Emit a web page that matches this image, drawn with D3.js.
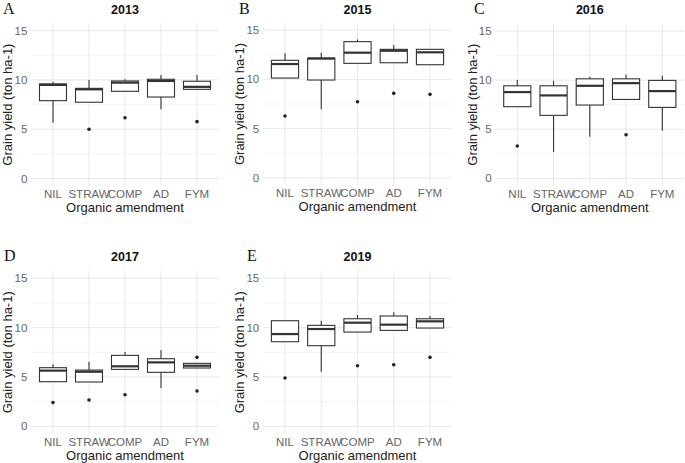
<!DOCTYPE html>
<html>
<head>
<meta charset="utf-8">
<script src="https://cdn.jsdelivr.net/npm/d3@7"></script>
<style>
  html, body { margin: 0; padding: 0; background: #fff; }
  svg { display: block; }
</style>
</head>
<body>
<svg id="chart" width="685" height="463"></svg>
<script>
// ---------- DATA ----------
const categories = ["NIL", "STRAW", "COMP", "AD", "FYM"];
const years = ["2013", "2015", "2016", "2017", "2019"];
const panelLetters = ["A", "B", "C", "D", "E"];
const yTicks = [0, 5, 10, 15];
const yMinorTicks = [2.5, 7.5, 12.5];
const xAxisTitle = "Organic amendment";
const yAxisTitle = "Grain yield (ton ha-1)";

// box stats per category: [lower whisker, Q1, median, Q3, upper whisker]
const stats2013 = [[5.67, 7.90, 9.50, 9.60, 9.83], [7.74, 7.74, 9.05, 9.15, 10.0], [8.85, 8.85, 9.73, 9.90, 10.07], [7.02, 8.27, 9.90, 10.07, 10.5], [9.05, 9.05, 9.30, 9.87, 10.5]];
const out2013 = [[], [5.0], [6.17], [], [5.77]];
const stats2015 = [[10.13, 10.13, 11.55, 11.93, 12.64], [6.96, 9.93, 12.1, 12.16, 12.7], [11.62, 11.62, 12.7, 13.82, 14.05], [11.68, 11.68, 12.9, 13.04, 13.48], [11.48, 11.48, 12.74, 13.04, 13.04]];
const out2015 = [[6.28], [], [7.73], [8.58], [8.48]];
const stats2016 = [[7.29, 7.29, 8.78, 9.42, 10.0], [2.68, 6.41, 8.44, 9.42, 9.93], [4.24, 7.46, 9.42, 10.13, 10.34], [8.03, 8.03, 9.69, 10.13, 10.54], [4.84, 7.22, 8.88, 9.97, 10.44]];
const out2016 = [[3.29], [], [], [4.44], []];
const stats2017 = [[4.52, 4.52, 5.64, 5.94, 6.28], [4.49, 4.49, 5.53, 5.70, 6.55], [5.77, 5.77, 6.08, 7.19, 7.53], [3.85, 5.47, 6.48, 6.85, 7.73], [5.91, 5.91, 6.14, 6.38, 6.38]];
const out2017 = [[2.4], [2.66], [3.2], [], [6.99, 3.58]];
const stats2019 = [[8.57, 8.57, 9.35, 10.7, 10.77], [5.53, 8.17, 9.86, 10.23, 10.7], [9.55, 9.55, 10.5, 10.9, 11.28], [9.72, 9.72, 10.3, 11.18, 11.55], [9.96, 9.96, 10.64, 10.9, 11.18]];
const out2019 = [[4.89], [], [6.14], [6.24], [6.99]];

const allStats = [stats2013, stats2015, stats2016, stats2017, stats2019];
const allOut = [out2013, out2015, out2016, out2017, out2019];

// ---------- LAYOUT ----------
const layout = [
  { cx0: 53, cx1: 197, y0: 178.5, y15: 30.7, lx: 3, ly: 13.5 },
  { cx0: 285, cx1: 430, y0: 178.0, y15: 30.0, lx: 239, ly: 13.5 },
  { cx0: 517.3, cx1: 662.3, y0: 178.3, y15: 31.0, lx: 474, ly: 13.5 },
  { cx0: 53, cx1: 197, y0: 426.3, y15: 278.3, lx: 4, ly: 261 },
  { cx0: 285, cx1: 430, y0: 426.3, y15: 278.3, lx: 247, ly: 261 }
];

const svg = d3.select("#chart");
const sans = "'Liberation Sans', Arial, sans-serif";

layout.forEach((L, i) => {
  const g = svg.append("g");
  const x = d3.scalePoint().domain(categories).range([L.cx0, L.cx1]);
  const step = x.step();
  const y = d3.scaleLinear().domain([0, 15]).range([L.y0, L.y15]);
  const gx0 = L.cx0 - 0.6 * step, gx1 = L.cx1 + 0.6 * step;
  const yTop = y(15.75), yBot = y(-0.75);

  // minor grid
  g.selectAll(".minor").data(yMinorTicks).join("line")
    .attr("x1", gx0).attr("x2", gx1)
    .attr("y1", d => y(d)).attr("y2", d => y(d))
    .attr("stroke", "#f2f2f2").attr("stroke-width", 0.8);
  // major grid
  g.selectAll(".majorY").data(yTicks).join("line")
    .attr("x1", gx0).attr("x2", gx1)
    .attr("y1", d => y(d)).attr("y2", d => y(d))
    .attr("stroke", "#e8e8e8").attr("stroke-width", 1);
  g.selectAll(".majorX").data(categories).join("line")
    .attr("x1", d => x(d)).attr("x2", d => x(d))
    .attr("y1", yTop).attr("y2", yBot)
    .attr("stroke", "#e8e8e8").attr("stroke-width", 1);

  // y tick labels
  g.selectAll(".ytl").data(yTicks).join("text")
    .attr("x", gx0 - 4).attr("y", d => y(d) + 4)
    .attr("text-anchor", "end")
    .attr("font-family", sans).attr("font-size", 11.5)
    .attr("fill", "#666").text(d => d);
  // x tick labels
  g.selectAll(".xtl").data(categories).join("text")
    .attr("x", d => x(d)).attr("y", yBot + 12)
    .attr("text-anchor", "middle")
    .attr("font-family", sans).attr("font-size", 11.5)
    .attr("fill", "#666").text(d => d);

  // axis titles
  g.append("text")
    .attr("x", (gx0 + gx1) / 2).attr("y", yBot + 26)
    .attr("text-anchor", "middle")
    .attr("font-family", sans).attr("font-size", 13)
    .attr("fill", "#222").text(xAxisTitle);
  g.append("text")
    .attr("transform", `translate(${gx0 - 19},${(yTop + yBot) / 2}) rotate(-90)`)
    .attr("text-anchor", "middle")
    .attr("font-family", sans).attr("font-size", 13)
    .attr("fill", "#222").text(yAxisTitle);

  // title
  g.append("text")
    .attr("x", (gx0 + gx1) / 2).attr("y", L.ly)
    .attr("text-anchor", "middle")
    .attr("font-family", sans).attr("font-size", 12.5).attr("font-weight", "bold")
    .attr("fill", "#111").text(years[i]);
  // panel letter
  g.append("text")
    .attr("x", L.lx).attr("y", L.ly)
    .attr("font-family", "'Liberation Serif', 'Times New Roman', serif").attr("font-size", 16)
    .attr("fill", "#111").text(panelLetters[i]);

  const bw = step * 0.75;
  const stats = allStats[i];
  const outs = allOut[i];
  const boxes = g.selectAll(".box").data(categories.map((c, k) => ({ c, s: stats[k], o: outs[k] }))).join("g");

  // whiskers
  boxes.append("line")
    .attr("x1", d => x(d.c)).attr("x2", d => x(d.c))
    .attr("y1", d => y(d.s[3])).attr("y2", d => y(d.s[4]))
    .attr("stroke", "#333").attr("stroke-width", 1.1);
  boxes.append("line")
    .attr("x1", d => x(d.c)).attr("x2", d => x(d.c))
    .attr("y1", d => y(d.s[0])).attr("y2", d => y(d.s[1]))
    .attr("stroke", "#333").attr("stroke-width", 1.1);
  // box
  boxes.append("rect")
    .attr("x", d => x(d.c) - bw / 2).attr("width", bw)
    .attr("y", d => y(d.s[3])).attr("height", d => y(d.s[1]) - y(d.s[3]))
    .attr("fill", "#fff").attr("stroke", "#333").attr("stroke-width", 1.1);
  // median
  boxes.append("line")
    .attr("x1", d => x(d.c) - bw / 2).attr("x2", d => x(d.c) + bw / 2)
    .attr("y1", d => y(d.s[2])).attr("y2", d => y(d.s[2]))
    .attr("stroke", "#333").attr("stroke-width", 2.2);
  // outliers
  boxes.each(function (d) {
    d3.select(this).selectAll("circle").data(d.o).join("circle")
      .attr("cx", x(d.c)).attr("cy", v => y(v)).attr("r", 1.8)
      .attr("fill", "#222");
  });
});
</script>
</body>
</html>
